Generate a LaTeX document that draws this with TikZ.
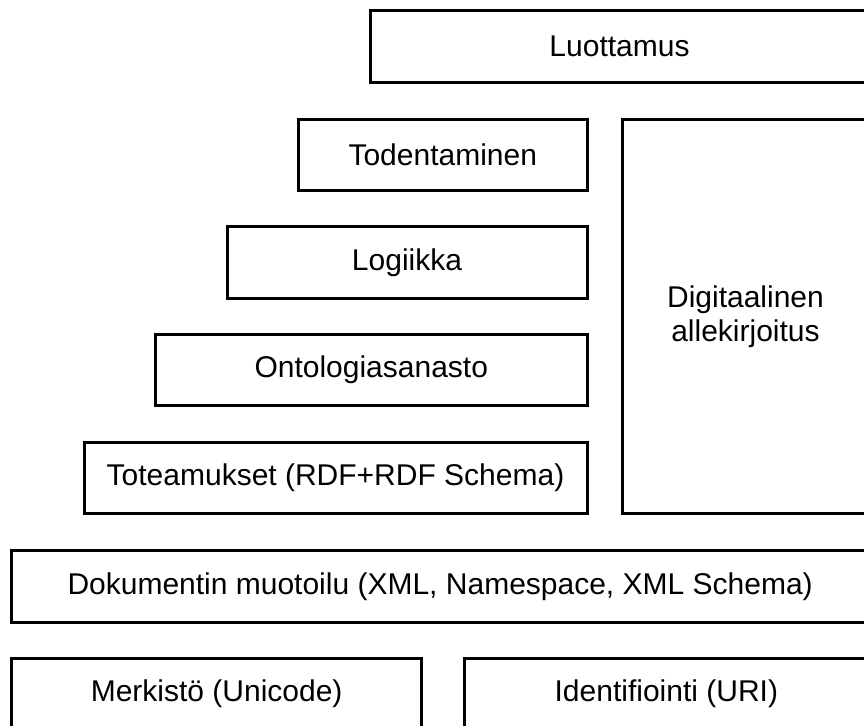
\documentclass[tikz,border=0pt]{standalone}
\usepackage{fontspec}
\setmainfont{Liberation Sans}
\begin{document}
\begin{tikzpicture}[x=1pt,y=-1pt,
  layer/.style={draw=black, line width=3pt, rectangle, anchor=north west,
    inner sep=0pt, align=center,
    font=\fontsize{30}{34}\selectfont}]
\useasboundingbox (0,0) rectangle (864,725);
\clip (0,0) rectangle (864,725);
% upper stack (left edges stepping by 72 units)
\node[layer, minimum width=498pt, minimum height=71.5pt] (trust) at (369,9.5) {Luottamus};
\node[layer, minimum width=288.5pt, minimum height=71.5pt] (proof) at (297,117.5) {Todentaminen};
\node[layer, minimum width=360pt, minimum height=71.5pt] (logic) at (225.5,225) {Logiikka};
\node[layer, minimum width=431.5pt, minimum height=71.5pt] (onto) at (154,332.7) {Ontologiasanasto};
\node[layer, minimum width=503pt, minimum height=71.5pt] (rdf) at (82.5,440.5) {Toteamukset (RDF+RDF Schema)};
% signature column on the right
\node[layer, minimum width=246pt, minimum height=394.5pt] (sig) at (621,117.5) {Digitaalinen\\allekirjoitus};
% base layers
\node[layer, minimum width=856.7pt, minimum height=71.5pt] (xml) at (10.3,549) {Dokumentin muotoilu (XML, Namespace, XML Schema)};
\node[layer, minimum width=409.7pt, minimum height=71.5pt] (unicode) at (10.3,656.5) {Merkistö (Unicode)};
\node[layer, minimum width=404.3pt, minimum height=71.5pt] (uri) at (462.7,656.5) {Identifiointi (URI)};
\end{tikzpicture}
\end{document}
